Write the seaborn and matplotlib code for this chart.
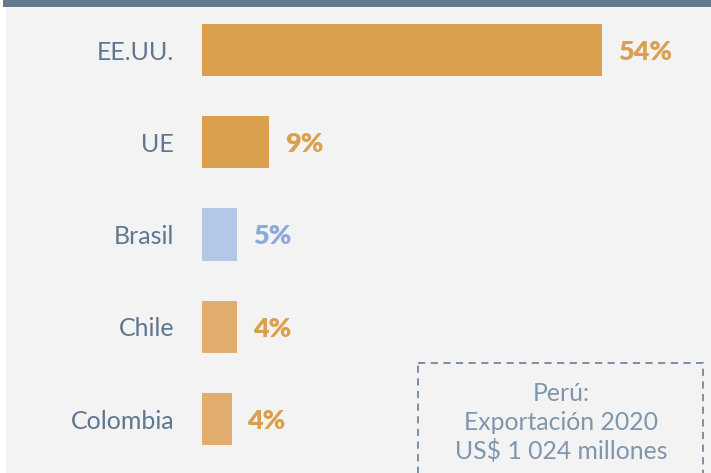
import matplotlib
matplotlib.use("Agg")
import matplotlib.pyplot as plt
from matplotlib.patches import Rectangle
import pandas as pd
import seaborn as sns

# data
paises = ["EE.UU.", "UE", "Brasil", "Chile", "Colombia"]
valores = [54, 9.0, 4.7, 4.7, 4.0]
etiquetas = ["54%", "9%", "5%", "4%", "4%"]
colores = ["#DBA04E", "#DBA04E", "#B4C7E7", "#E0AD6E", "#E0AD6E"]
color_txt = ["#DBA04E", "#DBA04E", "#8EA9DB", "#DBA04E", "#DBA04E"]
nota = ["Perú:", "Exportación 2020", "US$ 1 024 millones"]

df = pd.DataFrame({"pais": paises, "valor": valores})

sns.set_theme(style="white")
plt.rcParams["font.family"] = ["Lato", "DejaVu Sans"]

W, H = 711, 473
fig = plt.figure(figsize=(W / 100, H / 100), dpi=100)
fig.patch.set_facecolor("white")

# background, top band and dashed note box (pixel coords)
bg = fig.add_axes([0, 0, 1, 1], zorder=0)
bg.set_xlim(0, W)
bg.set_ylim(H, 0)
bg.axis("off")
bg.add_patch(Rectangle((6, 0), W - 6, H, color="#F3F3F3", lw=0))
bg.add_patch(Rectangle((3, 0), W - 3, 7, color="#62798F", lw=0))
bg.add_patch(Rectangle((418, 363), 285, 130, fill=False, ec="#7389A0",
                       lw=1.3, ls=(0, (4, 3))))
for yy, t in zip([393, 422, 451], nota):
    bg.text(561, yy, t, ha="center", va="center", fontsize=17.8, color="#7F96AD")

# bars
x0 = 202
ax = fig.add_axes([x0 / W, 0, (W - x0) / W, 1], zorder=1)
ax.patch.set_alpha(0)
sns.barplot(data=df, x="valor", y="pais", hue="pais", palette=colores,
            legend=False, orient="h", width=0.565, saturation=1,
            linewidth=0, ax=ax)
ax.set_xlim(0, 54 * (W - x0) / 400)
ax.set_ylim(4.585, -0.542)
ax.set_xlabel("")
ax.set_ylabel("")
ax.set_xticks([])
for s in ax.spines.values():
    s.set_visible(False)
ax.tick_params(axis="y", length=0, pad=20, labelsize=18, labelcolor="#5E7691")

for i, (v, lab, c) in enumerate(zip(valores, etiquetas, color_txt)):
    ax.annotate(lab, (v, i + 0.02), xytext=(11.5, 0), textcoords="offset points",
                ha="left", va="center", fontsize=19.5, fontweight="heavy", color=c)

fig.savefig("out.png", dpi=100)
